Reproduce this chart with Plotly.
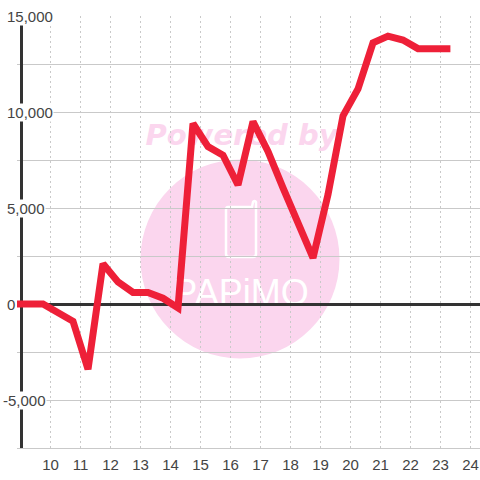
import plotly.graph_objects as go

x_values = [8.75, 9.25, 9.75, 10.75, 11.25, 11.75, 12.25, 12.75, 13.25, 13.75, 14.25, 14.75, 15.25, 15.75,
            16.25, 16.75, 17.25, 17.75, 18.25, 18.75, 19.25, 19.75, 20.25, 20.75, 21.25, 21.75, 22.25, 22.75, 23.33]
y_values = [0, 0, 0, -900, -3400, 2100, 1150, 600, 600, 300, -200, 9400, 8200, 7750,
            6200, 9500, 7950, 6050, 4200, 2400, 5700, 9800, 11200, 13600, 13950, 13750, 13300, 13300, 13300]
x_ticks = list(range(10, 25))
y_ticks = [15000, 10000, 5000, 0, -5000]
y_tick_labels = ["15,000", "10,000", "5,000", "0", "-5,000"]

W, H = 480, 480
L, R, T, B = 17, 480, 16, 448
def px(v): return (v - L) / (R - L)
def py(v): return (B - v) / (B - T)

TXT = "#444444"
GRID = "#c9c9c9"
PINK = "#fbd6ee"
FONT = "Liberation Sans"

fig = go.Figure(go.Scatter(x=x_values, y=y_values, mode="lines",
                           line=dict(color="#ee2038", width=7), hoverinfo="skip"))

phone = [("M", 228, 207), ("L", 252, 207), ("L", 253, 202), ("Q", 255, 200, 256, 202), ("L", 256, 254),
         ("Q", 256, 257, 253, 257), ("L", 229, 257), ("Q", 226, 257, 226, 254), ("L", 226, 210), ("Q", 226, 207, 228, 207)]
def seg(s):
    c = s[0]
    pts = s[1:]
    out = [c]
    for i in range(0, len(pts), 2):
        out += [str(px(pts[i])), str(py(pts[i + 1]))]
    return " ".join(out)

shapes = [
    dict(type="circle", xref="paper", yref="paper", x0=px(140.5), x1=px(339.5), y0=py(358.5), y1=py(159.5),
         fillcolor=PINK, line_width=0, layer="below"),
    dict(type="path", xref="paper", yref="paper", layer="below",
         path=" ".join(seg(s) for s in phone) + " Z",
         line=dict(color="white", width=2.5)),
    dict(type="rect", xref="paper", yref="paper", x0=px(140), x1=px(343), y0=py(149), y1=py(117),
         line_width=0, fillcolor="rgba(0,0,0,0)", layer="below",
         label=dict(text="Powered by", textposition="middle center",
                    font=dict(family="DejaVu Sans", size=29, color=PINK, weight="bold", style="italic"))),
    dict(type="rect", xref="paper", yref="paper", x0=px(160), x1=px(322), y0=py(310), y1=py(268),
         line_width=0, fillcolor="rgba(0,0,0,0)", layer="below",
         label=dict(text="PAPiMO", textposition="middle center",
                    font=dict(family="Liberation Sans", size=36, color="white"))),
    # hide the horizontal grid stubs left of the y axis
    dict(type="rect", xref="paper", yref="paper", x0=0, x1=px(19), y0=0, y1=1,
         fillcolor="white", line_width=0, layer="between"),
]

annotations = [
    dict(x=px(6) if t != "-5,000" else px(1.5), y=v, xref="paper", yref="y", text=t, showarrow=False,
         xanchor="left", yanchor="middle", bgcolor="white", borderpad=0,
         font=dict(family=FONT, size=15, color=TXT))
    for v, t in zip(y_ticks, y_tick_labels)
]

fig.update_layout(
    width=W, height=H, autosize=False, showlegend=False,
    margin=dict(l=L, r=W - R, t=T, b=H - B, pad=0),
    paper_bgcolor="white", plot_bgcolor="white",
    shapes=shapes, annotations=annotations,
    xaxis=dict(range=[9 - 3.5 / 30, 24 + 9.5 / 30], tickmode="array", tickvals=x_ticks,
               ticktext=[str(t) for t in x_ticks], showgrid=True, gridcolor=GRID, griddash="2px,3px", gridwidth=1,
               zeroline=False, showline=True, linecolor=GRID, linewidth=1, layer="below traces",
               ticks="outside", ticklen=3, tickcolor="rgba(0,0,0,0)",
               tickfont=dict(family=FONT, size=15, color=TXT)),
    yaxis=dict(range=[-7500, 15000], dtick=2500, showgrid=True, gridcolor=GRID, gridwidth=1,
               showticklabels=False, ticks="",
               zeroline=True, zerolinecolor="#333333", zerolinewidth=3,
               anchor="free", position=px(20.5), showline=True, linecolor="#333333", linewidth=3,
               layer="below traces"),
)

fig.write_html("out.html", config={"displayModeBar": False},
               post_script="document.body.style.margin='0';document.documentElement.style.overflow='hidden';")
